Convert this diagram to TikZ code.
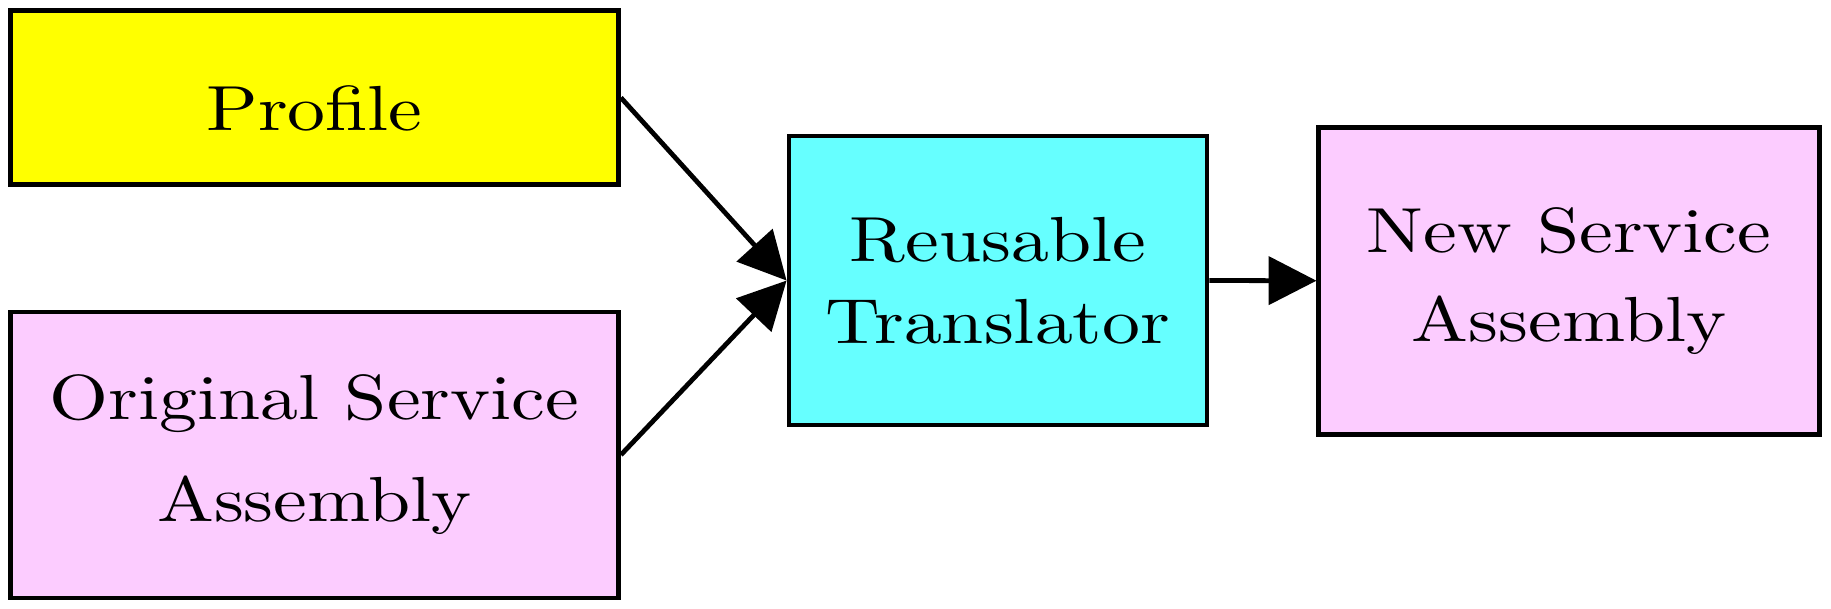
\documentclass[tikz,border=0pt]{standalone}
\usepackage{fontspec}
\usetikzlibrary{arrows.meta}
\newfontfamily\boxfont{lmroman10-regular.otf}[FakeStretch=1.19]
\definecolor{profileyellow}{RGB}{255,255,0}
\definecolor{assemblypink}{RGB}{252,204,255}
\definecolor{translatorcyan}{RGB}{102,255,255}
\tikzset{
	block/.style={draw, line width=0.75pt, align=center, font=\boxfont, inner sep=0pt},
	link/.style={line width=0.75pt, -{Triangle[length=7.5pt,width=7.5pt]}}
}

\begin{document}
\begin{tikzpicture}
			%%%%% START %%%%%
			
			\useasboundingbox (0, 0) rectangle (10.102, 3.360);
			
			\node[block, fill=profileyellow, minimum width=3.355cm, minimum height=0.958cm] (profile) at (1.735, 2.821) {\rule{0pt}{10.5pt}Profile};
			\node[block, fill=assemblypink, minimum width=3.355cm, minimum height=1.578cm] (original) at (1.735, 0.850) {Original Service\\[4pt]Assembly};
			
			\node[block, fill=translatorcyan, minimum width=2.306cm, minimum height=1.595cm] (translator) at (5.506, 1.812) {Reusable\\[0.8pt]Translator};
			\node[block, fill=assemblypink, minimum width=2.761cm, minimum height=1.693cm] (newassembly) at (8.657, 1.811) {New Service\\[2pt]Assembly};
			
			\draw[link] (profile.east) -- (translator.west);
			\draw[link] (original.east) -- (translator.west);
			\draw[link] (translator.east) -- (newassembly.west);
			
			%%%%% END %%%%%
\end{tikzpicture}
\end{document}
